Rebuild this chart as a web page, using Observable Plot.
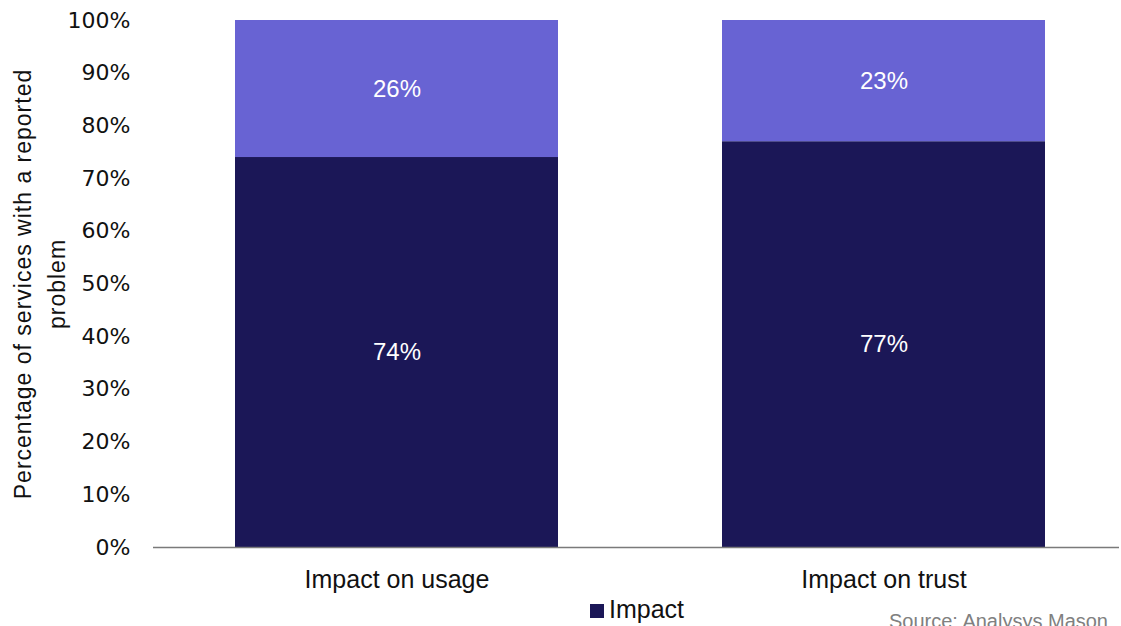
<!DOCTYPE html>
<html>
<head>
<meta charset="utf-8">
<script src="https://cdn.jsdelivr.net/npm/d3@7"></script>
<script src="https://cdn.jsdelivr.net/npm/@observablehq/plot@0.6"></script>
<style>
  html, body { margin: 0; padding: 0; background: #fff; overflow: hidden; }
  #wrap { position: relative; width: 1121px; height: 626px; font-family: "DejaVu Sans", sans-serif; }
  #legend { position: absolute; left: 590px; top: 595px; display: flex; align-items: center; font-family: "Liberation Sans", sans-serif; font-size: 25px; color: #111; }
  #legend .sw { width: 14px; height: 14px; margin-right: 5px; margin-top: 2px; }
  #source { position: absolute; right: 13px; top: 610px; font-family: "Liberation Sans", sans-serif; font-size: 20px; color: #808080; white-space: nowrap; }
</style>
</head>
<body>
<div id="wrap">
  <div id="chart"></div>
  <div id="legend"></div>
  <div id="source">Source: Analysys Mason</div>
</div>
<script>
// Share of services with a reported problem, by type of impact
const categories = ["Impact on usage", "Impact on trust"];
const seriesNames = ["Impact", "No impact"];
const impactValues = [74, 77];
const noImpactValues = [26, 23];
const seriesColors = ["#1b1757", "#6863d3"];
const yTicks = [0, 10, 20, 30, 40, 50, 60, 70, 80, 90, 100];
const yLabel = "Percentage of services with a reported\nproblem";

const rows = [];
categories.forEach((c, i) => {
  rows.push({category: c, series: seriesNames[0], value: impactValues[i]});
  rows.push({category: c, series: seriesNames[1], value: noImpactValues[i]});
});

const chart = Plot.plot({
  width: 1121,
  height: 595,
  marginTop: 20,
  marginBottom: 48,
  marginLeft: 153,
  marginRight: 2,
  style: {fontFamily: "Liberation Sans, sans-serif", background: "#fff", overflow: "visible"},
  x: {domain: categories, paddingInner: 0.337, paddingOuter: 0.16, align: 0.526, label: null},
  y: {domain: [0, 100], label: null},
  color: {domain: seriesNames, range: seriesColors},
  marks: [
    Plot.barY(rows, {x: "category", y: "value", fill: "series", order: null}),
    Plot.text(rows, Plot.stackY({
      x: "category", y: "value", order: null,
      text: d => d.value + "%",
      fill: "#fff", fontSize: 24, fontFamily: "Liberation Sans, sans-serif"
    })),
    Plot.ruleY([0], {stroke: "#7a7a7a", strokeWidth: 1.5}),
    Plot.axisY({
      ticks: yTicks, tickFormat: d => d + "%", tickSize: 0, tickPadding: 23,
      fontSize: 22, fill: "#111", fontFamily: "DejaVu Sans, sans-serif", label: null
    }),
    Plot.axisX({
      tickSize: 0, tickPadding: 23, fontSize: 25, fill: "#111",
      fontFamily: "Liberation Sans, sans-serif", label: null
    }),
    Plot.text([yLabel], {
      frameAnchor: "left", rotate: -90, dx: -116,
      textAnchor: "middle", lineAnchor: "middle", lineHeight: 1.48,
      fontSize: 23, fill: "#111", fontFamily: "Liberation Sans, sans-serif"
    })
  ]
});

// Slightly wider tracking for the rotated axis title
d3.select(chart).selectAll("text")
  .filter(function () { return this.textContent.startsWith("Percentage"); })
  .style("letter-spacing", "1px");

document.getElementById("chart").appendChild(chart);

// Legend entry for the impact series
const legend = document.getElementById("legend");
const sw = document.createElement("span");
sw.className = "sw";
sw.style.background = chart.scale("color").apply(seriesNames[0]);
legend.appendChild(sw);
const lt = document.createElement("span");
lt.textContent = seriesNames[0];
legend.appendChild(lt);
</script>
</body>
</html>
